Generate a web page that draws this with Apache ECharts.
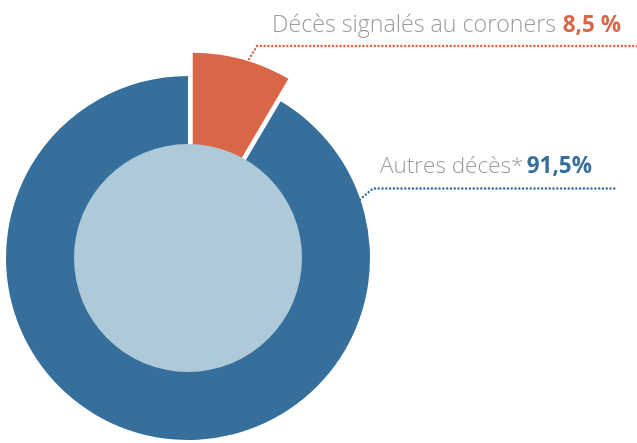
<!DOCTYPE html>
<html>
<head>
<meta charset="utf-8">
<script src="https://cdn.jsdelivr.net/npm/echarts@6/dist/echarts.min.js"></script>
<style>
  html, body { margin: 0; padding: 0; background: #ffffff; }
  #chart { width: 637px; height: 443px; }
</style>
</head>
<body>
<div id="chart"></div>
<script>
// ---- data ----
var categories = ['Décès signalés au coroners', 'Autres décès*'];
var values = [8.5, 91.5];
var valueSuffix = [' %', '%'];
var gaps = ['  ', ' '];

// ---- styles ----
var ORANGE = '#D96747';
var BLUE = '#366F9B';
var LIGHT = '#AECAD8';
var GREY = '#9B9B9B';
var FONT = '"Open Sans", "Noto Sans", sans-serif';

function fmt(i) {
  return String(values[i]).replace('.', ',') + valueSuffix[i];
}

var center = [188, 258];
// explode the first slice along its bisector
var total = values[0] + values[1];
var bis = (values[0] / total) * Math.PI; // half of slice angle, from 12 o'clock clockwise
var OFFSET = 18;
var center2 = [center[0] + OFFSET * Math.sin(bis), center[1] - OFFSET * Math.cos(bis)];

var chart = echarts.init(document.getElementById('chart'), null, { renderer: 'canvas' });

function labelFor(i, color, nameSize) {
  return {
    show: true,
    position: 'outside',
    overflow: 'none',
    formatter: '{n|' + categories[i] + '}' + gaps[i] + '{v|' + fmt(i) + '}',
    rich: {
      n: { color: GREY, fontSize: nameSize, fontWeight: 300, fontFamily: FONT },
      v: { color: color, fontSize: 22.5, fontWeight: 'bold', fontFamily: FONT }
    }
  };
}

var dotted = [0.1, 3.7];

var option = {
  animation: false,
  backgroundColor: '#ffffff',
  series: [
    {
      name: 'anneau',
      type: 'pie',
      center: center,
      radius: [0, 182],
      startAngle: 90,
      clockwise: true,
      silent: true,
      emphasis: { disabled: true },
      labelLine: { show: true, lineStyle: { color: BLUE, width: 2.4, type: dotted, cap: 'round' }, smooth: false },
      labelLayout: function () {
        return {
          x: 592, y: 167, align: 'right', verticalAlign: 'middle',
          labelLinePoints: [[357, 202], [373, 188.5], [617, 188.5]]
        };
      },
      data: [
        { name: categories[0], value: values[0], itemStyle: { color: 'rgba(0,0,0,0)' }, label: { show: false }, labelLine: { show: false } },
        { name: categories[1], value: values[1], itemStyle: { color: BLUE }, label: labelFor(1, BLUE, 22.5) }
      ]
    },
    {
      name: 'coroners',
      type: 'pie',
      center: center2,
      radius: [0, 188],
      startAngle: 90,
      clockwise: true,
      silent: true,
      emphasis: { disabled: true },
      labelLine: { show: true, lineStyle: { color: ORANGE, width: 2.4, type: dotted, cap: 'round' }, smooth: false },
      labelLayout: function () {
        return {
          x: 621, y: 25.5, align: 'right', verticalAlign: 'middle',
          labelLinePoints: [[249, 59], [257, 46], [637, 46]]
        };
      },
      data: [
        { name: categories[0], value: values[0], itemStyle: { color: ORANGE }, label: labelFor(0, ORANGE, 23.2) },
        { name: categories[1], value: values[1], itemStyle: { color: 'rgba(0,0,0,0)' }, label: { show: false }, labelLine: { show: false } }
      ]
    },
    {
      name: 'centre',
      type: 'pie',
      center: center,
      radius: [0, 114],
      silent: true,
      emphasis: { disabled: true },
      label: { show: false },
      labelLine: { show: false },
      data: [{ name: 'centre', value: 1, itemStyle: { color: LIGHT } }]
    }
  ]
};

chart.setOption(option);
</script>
</body>
</html>
